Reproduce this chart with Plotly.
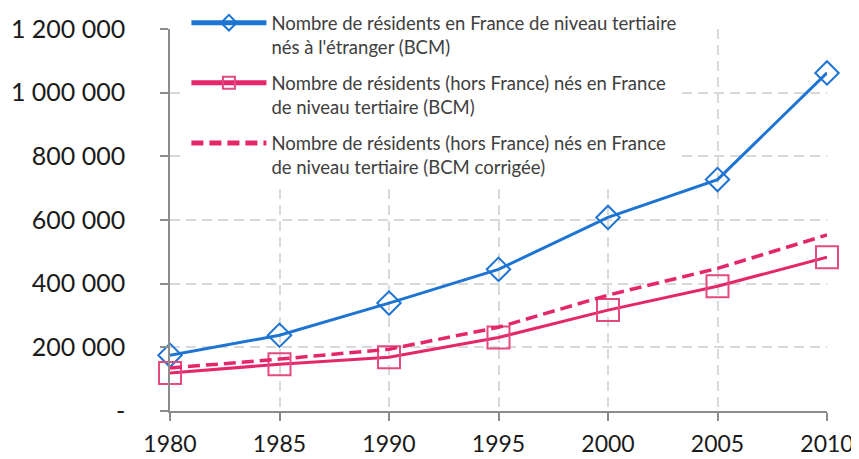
import plotly.graph_objects as go

years = [1980, 1985, 1990, 1995, 2000, 2005, 2010]
nes_etranger = [175000, 238000, 339000, 445000, 608000, 727000, 1062000]
hors_france_bcm = [119000, 147000, 169000, 231000, 317000, 392000, 483000]
hors_france_corr = [135000, 163000, 194000, 263000, 364000, 448000, 553000]

names = [
    "Nombre de résidents en France de niveau tertiaire<br>nés à l'étranger (BCM)",
    "Nombre de résidents (hors France) nés en France<br>de niveau tertiaire (BCM)",
    "Nombre de résidents (hors France) nés en France<br>de niveau tertiaire (BCM corrigée)",
]
y_tickvals = [0, 200000, 400000, 600000, 800000, 1000000, 1200000]
y_ticktext = ["-", "200 000", "400 000", "600 000", "800 000", "1 000 000", "1 200 000"]

blue = "#1E74D2"
pink = "#E4266A"

fig = go.Figure()
fig.add_trace(go.Scatter(
    x=years, y=nes_etranger, name=names[0], mode="lines+markers",
    line=dict(color=blue, width=3),
    marker=dict(symbol="diamond-open", size=18, color=blue, line=dict(width=2, color=blue)),
    legendgroup="a", cliponaxis=False,
))
fig.add_trace(go.Scatter(
    x=years, y=hors_france_bcm, name=names[1], mode="lines+markers",
    line=dict(color=pink, width=3),
    marker=dict(symbol="square-open", size=22, color="#E24A80", line=dict(width=2, color="#E24A80")),
    legendgroup="b", cliponaxis=False,
))
fig.add_trace(go.Scatter(
    x=years, y=hors_france_corr, name=names[2], mode="lines",
    line=dict(color=pink, width=3.5, dash="12px,6px"),
    legendgroup="c", cliponaxis=False,
))

fig.update_layout(
    width=851, height=451,
    margin=dict(l=162, r=32, t=21, b=48, autoexpand=False),
    paper_bgcolor="white", plot_bgcolor="white",
    font=dict(family="Lato, 'Open Sans', sans-serif", color="#1a1a1a"),
    showlegend=True,
    legend=dict(
        x=0.025, y=1.065, xanchor="left", yanchor="top",
        bgcolor="white", borderwidth=0,
        font=dict(size=18.5, color="#404040"),
        valign="top", itemwidth=75, itemsizing="constant",
        tracegroupgap=9,
    ),
)
fig.update_xaxes(
    range=[1980, 2010], tickvals=years, ticktext=[str(y) for y in years],
    showline=True, linecolor="#8c8c8c", linewidth=1.5,
    ticks="outside", ticklen=8, tickcolor="#8c8c8c", tickwidth=1.5,
    showgrid=True, gridcolor="#d9d9d9", gridwidth=2, griddash="10px,6px",
    tickfont=dict(size=23, color="#1a1a1a"), zeroline=False,
    ticklabelstandoff=4,
)
fig.update_yaxes(
    range=[0, 1200000], tickvals=y_tickvals, ticktext=y_ticktext,
    showline=True, linecolor="#8c8c8c", linewidth=1.5,
    ticks="outside", ticklen=8, tickcolor="#8c8c8c", tickwidth=1.5,
    showgrid=True, gridcolor="#d9d9d9", gridwidth=2, griddash="10px,6px",
    tickfont=dict(size=25, color="#1a1a1a"), zeroline=False,
    ticklabelstandoff=30,
)

fig.write_html("out.html")
